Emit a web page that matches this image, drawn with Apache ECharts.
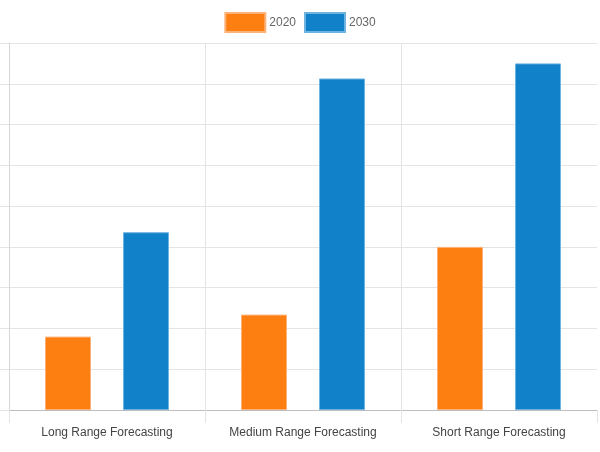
<!DOCTYPE html>
<html>
<head>
<meta charset="utf-8">
<script src="https://cdn.jsdelivr.net/npm/echarts@6/dist/echarts.min.js"></script>
<style>
html,body{margin:0;padding:0;background:#fff;}
#chart{width:600px;height:452px;}
</style>
</head>
<body>
<div id="chart"></div>
<script>
var categories = ['Long Range Forecasting', 'Medium Range Forecasting', 'Short Range Forecasting'];
var seriesNames = ['2020', '2030'];
var values2020 = [1.8, 2.34, 4.0];
var values2030 = [4.36, 8.13, 8.5];

var FONT = '"Liberation Sans", Arial, sans-serif';
var chart = echarts.init(document.getElementById('chart'));
chart.setOption({
  animation: false,
  legend: {
    data: seriesNames,
    top: 7,
    left: 'center',
    icon: 'rect',
    itemWidth: 40,
    itemHeight: 19,
    itemGap: 8,
    textStyle: { fontFamily: FONT, fontSize: 12, color: '#666', padding: [0, 0, 0, -1] }
  },
  grid: { left: 9, right: 3, top: 43, bottom: 42 },
  xAxis: {
    type: 'category',
    data: categories,
    axisLine: { show: true, lineStyle: { color: '#bdbdbd', width: 1 } },
    axisTick: { show: true, interval: 0, length: 13, lineStyle: { color: '#e4e4e4' } },
    splitLine: { show: true, interval: 0, showMaxLine: false, lineStyle: { color: '#e4e4e4' } },
    axisLabel: { interval: 0, fontFamily: FONT, fontSize: 12, color: '#444', margin: 17 }
  },
  yAxis: {
    type: 'value',
    min: 0,
    max: 9,
    interval: 1,
    axisLine: { show: true, lineStyle: { color: '#d6d6d6' } },
    axisTick: { show: true, length: 9, lineStyle: { color: '#e4e4e4' } },
    splitLine: { show: true, lineStyle: { color: '#e4e4e4' } },
    axisLabel: { show: false }
  },
  series: [
    {
      name: '2020', type: 'bar', data: values2020,
      barWidth: 46, barGap: '69.6%',
      itemStyle: { color: '#fd7f11', borderColor: '#fdb27a', borderWidth: 1 }
    },
    {
      name: '2030', type: 'bar', data: values2030,
      barWidth: 46, barGap: '69.6%',
      itemStyle: { color: '#1181c9', borderColor: '#6fb3e0', borderWidth: 1 }
    }
  ]
});
</script>
</body>
</html>
